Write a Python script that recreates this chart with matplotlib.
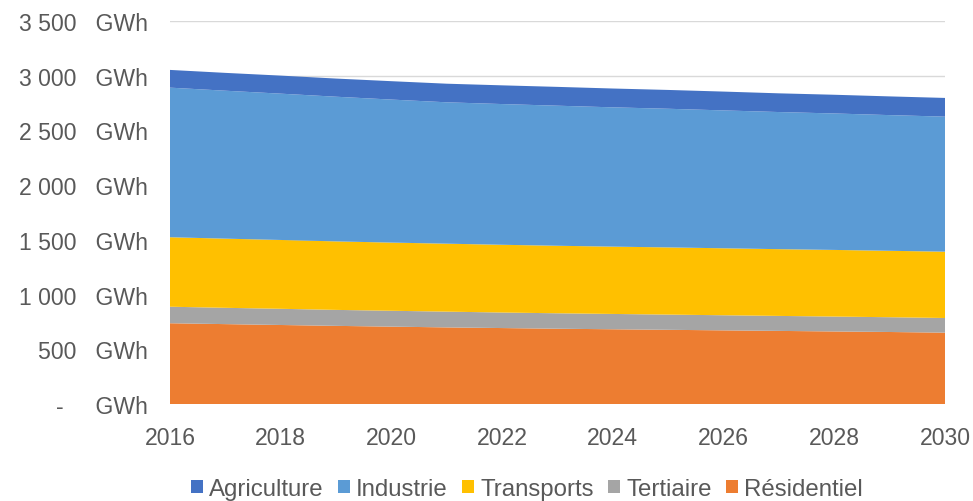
import numpy as np
import matplotlib
matplotlib.use("Agg")
import matplotlib.pyplot as plt
from matplotlib.patches import Patch
from matplotlib.ticker import FuncFormatter

plt.rcParams['font.family'] = ['Liberation Sans', 'DejaVu Sans']

# Données (GWh)
annees = list(range(2016, 2031))
residentiel = [738, 730, 722, 714, 707, 700, 694, 688, 683, 678, 673, 668, 663, 658, 652]
tertiaire = [151, 149, 148, 146, 145, 144, 142, 141, 140, 139, 138, 137, 136, 135, 134]
transports = [635, 632, 629, 626, 623, 621, 619, 617, 615, 614, 612, 610, 609, 607, 606]
industrie = [1367, 1352, 1337, 1322, 1307, 1292, 1286, 1280, 1273, 1267, 1260, 1253, 1247, 1240, 1234]
agriculture = [162, 163, 165, 166, 168, 170, 171, 172, 172, 172, 172, 171, 171, 171, 171]

noms = ['Résidentiel', 'Tertiaire', 'Transports', 'Industrie', 'Agriculture']
couleurs = ['#ED7D31', '#A5A5A5', '#FFC000', '#5B9BD5', '#4472C4']
GRIS = '#595959'

fig = plt.figure(figsize=(9.73, 5.02), dpi=100)
ax = fig.add_axes([170/973, 1 - 405/502, (945 - 170)/973, (405 - 22)/502])

ax.stackplot(annees, residentiel, tertiaire, transports, industrie, agriculture,
             colors=couleurs, linewidth=0, zorder=2)

ax.set_xlim(2016, 2030)
ax.set_ylim(0, 3500)
ax.set_xticks(range(2016, 2031, 2))
ax.set_yticks(range(0, 3501, 500))


def fmt_gwh(v, pos):
    if v == 0:
        return "-     GWh"
    return f"{int(v):,}".replace(",", " ") + "   GWh"


ax.yaxis.set_major_formatter(FuncFormatter(fmt_gwh))
ax.grid(axis='y', color='#D9D9D9', linewidth=1, zorder=0)
ax.set_axisbelow(True)
for s in ax.spines.values():
    s.set_visible(False)
ax.tick_params(axis='both', length=0, labelsize=16.6, labelcolor=GRIS)
ax.tick_params(axis='x', pad=16)
ax.tick_params(axis='y', pad=16)

# Légende (ordre inversé)
handles = [Patch(facecolor=c, edgecolor='none') for c in couleurs[::-1]]
fig.legend(handles, noms[::-1], loc='center', bbox_to_anchor=(527/973, 1 - 490/502),
           ncol=5, frameon=False, fontsize=17.3, labelcolor=GRIS,
           handlelength=0.5, handleheight=0.5, handletextpad=0.25, columnspacing=0.6,
           borderpad=0, borderaxespad=0)

fig.savefig("out.png", dpi=100)
